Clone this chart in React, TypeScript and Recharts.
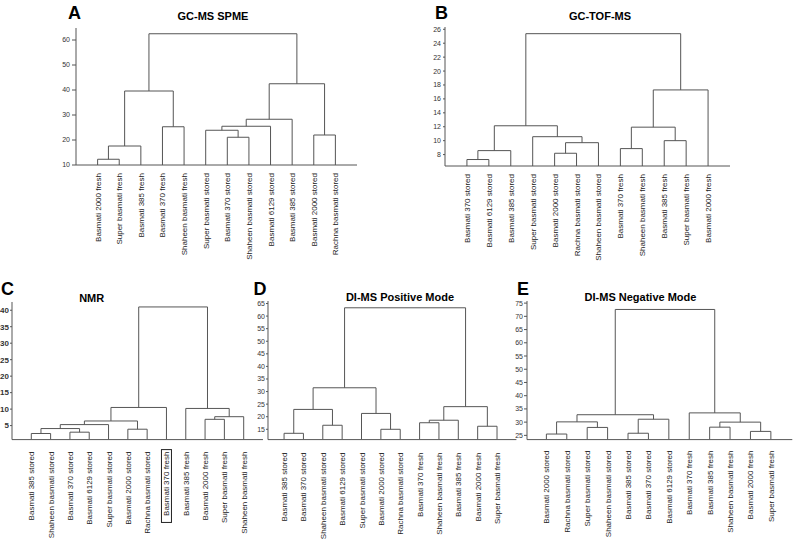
import React from 'react';
import { LineChart, Line, XAxis, YAxis } from 'recharts';

const FONT = '"Liberation Sans", Arial, Helvetica, sans-serif';
const INK = '#555';

// Each tree: leaves in printed order, then merges as [left id, right id, height].
// Ids below the leaf count are leaves, id n+k is the k-th merge.

const spmeLeaves = [
  'Basmati 2000 fresh', 'Super basmati fresh', 'Basmati 385 fresh', 'Basmati 370 fresh',
  'Shaheen basmati fresh', 'Super basmati stored', 'Basmati 370 stored', 'Shaheen basmati stored',
  'Basmati 6129 stored', 'Basmati 385 stored', 'Basmati 2000 stored', 'Rachna basmati stored',
];
const spmeMerges: [number, number, number][] = [
  [0, 1, 12.3], [12, 2, 17.6], [3, 4, 25.3], [13, 14, 39.6],
  [6, 7, 21.1], [5, 16, 23.9], [17, 8, 25.5], [18, 9, 28.3],
  [10, 11, 22.0], [19, 20, 42.5], [15, 21, 62.5],
];
const spmeTicks = [10, 20, 30, 40, 50, 60];

const tofLeaves = [
  'Basmati 370 stored', 'Basmati 6129 stored', 'Basmati 385 stored', 'Super basmati stored',
  'Basmati 2000 stored', 'Rachna basmati stored', 'Shaheen basmati stored', 'Basmati 370 fresh',
  'Shaheen basmati fresh', 'Basmati 385 fresh', 'Super basmati fresh', 'Basmati 2000 fresh',
];
const tofMerges: [number, number, number][] = [
  [0, 1, 7.29], [12, 2, 8.57], [4, 5, 8.19], [14, 6, 9.71],
  [3, 15, 10.57], [13, 16, 12.14], [7, 8, 8.86], [9, 10, 10.0],
  [18, 19, 11.94], [20, 11, 17.29], [17, 21, 25.37],
];
const tofTicks = [8, 10, 12, 14, 16, 18, 20, 22, 24, 26];

const nmrLeaves = [
  'Basmati 385 stored', 'Shaheen basmati stored', 'Basmati 370 stored', 'Basmati 6129 stored',
  'Super basmati stored', 'Basmati 2000 stored', 'Rachna basmati stored', 'Basmati 370 fresh',
  'Basmati 385 fresh', 'Basmati 2000 fresh', 'Super basmati fresh', 'Shaheen basmati fresh',
];
const nmrMerges: [number, number, number][] = [
  [0, 1, 2.6], [2, 3, 3.0], [12, 13, 4.1], [14, 4, 5.3],
  [5, 6, 3.9], [15, 16, 6.4], [17, 7, 10.5], [9, 10, 6.9],
  [19, 11, 7.7], [8, 20, 10.2], [18, 21, 41.0],
];
const nmrTicks = [5, 10, 15, 20, 25, 30, 35, 40];

const posLeaves = [
  'Basmati 385 stored', 'Basmati 370 stored', 'Shaheen basmati stored', 'Basmati 6129 stored',
  'Super basmati stored', 'Basmati 2000 stored', 'Rachna basmati stored', 'Basmati 370 fresh',
  'Shaheen basmati fresh', 'Basmati 385 fresh', 'Basmati 2000 fresh', 'Super basmati fresh',
];
const posMerges: [number, number, number][] = [
  [0, 1, 13.4], [2, 3, 16.6], [12, 13, 22.9], [5, 6, 15.0],
  [4, 15, 21.3], [14, 16, 31.5], [7, 8, 17.6], [18, 9, 18.6],
  [10, 11, 16.2], [19, 20, 24.0], [17, 21, 63.3],
];
const posTicks = [15, 20, 25, 30, 35, 40, 45, 50, 55, 60, 65];

const negLeaves = [
  'Basmati 2000 stored', 'Rachna basmati stored', 'Super basmati stored', 'Shaheen basmati stored',
  'Basmati 385 stored', 'Basmati 370 stored', 'Basmati 6129 stored', 'Basmati 370 fresh',
  'Basmati 385 fresh', 'Shaheen basmati fresh', 'Basmati 2000 fresh', 'Super basmati fresh',
];
const negMerges: [number, number, number][] = [
  [0, 1, 25.5], [2, 3, 28.0], [12, 13, 30.1], [4, 5, 25.8],
  [15, 6, 31.1], [14, 16, 32.8], [8, 9, 28.1], [10, 11, 26.5],
  [18, 19, 30.0], [7, 20, 33.5], [17, 21, 72.6],
];
const negTicks = [25, 30, 35, 40, 45, 50, 55, 60, 65, 70, 75];

type Pt = { x: number; y: number };

// turn merges into U-shaped links; a merge sits midway over its two children
function buildLinks(n: number, merges: [number, number, number][], base: number): Pt[][] {
  const xs: number[] = [];
  const ys: number[] = [];
  for (let i = 0; i < n; i++) {
    xs.push(i);
    ys.push(base);
  }
  return merges.map(([a, b, h]) => {
    const pts = [
      { x: xs[a], y: ys[a] },
      { x: xs[a], y: h },
      { x: xs[b], y: h },
      { x: xs[b], y: ys[b] },
    ];
    xs.push((xs[a] + xs[b]) / 2);
    ys.push(h);
    return pts;
  });
}

type Box = { left: number; top: number; right: number; bottom: number };
type TickStyle = { size: number; margin: number; font: number; bold?: boolean };

type DendroProps = {
  leaves: string[];
  merges: [number, number, number][];
  yDomain: [number, number];
  yTicks: number[];
  xDomain: [number, number];
  box: Box;
  gap: number;
  yTick: TickStyle;
  boxed?: number;
};

const Dendro: React.FC<DendroProps> = ({ leaves, merges, yDomain, yTicks, xDomain, box, gap, yTick, boxed }) => {
  const links = buildLinks(leaves.length, merges, yDomain[0]);
  const yw = 40;
  const mt = 10;
  const mr = 6;
  const xh = 100;
  const width = box.right - box.left + yw + mr;
  const height = box.bottom - box.top + mt + xh;

  const renderLeaf = (props: any) => {
    const { x, y, payload } = props;
    const idx = Math.round(payload.value);
    const label = leaves[idx];
    if (label === undefined) return <g />;
    const textW = label.length * 4.05;
    return (
      <g transform={`translate(${x},${y})`}>
        {idx === boxed && (
          <rect x={-(gap + textW + 2)} y={-5} width={textW + 4} height={10} fill="none" stroke="#222" strokeWidth={1} transform="rotate(-90)" />
        )}
        <text transform="rotate(-90)" x={-gap} y={0} dy={3} textAnchor="end" fontSize={8} fontFamily={FONT} fill="#222">
          {label}
        </text>
      </g>
    );
  };

  return (
    <div style={{ position: 'absolute', left: box.left - yw, top: box.top - mt }}>
      <LineChart width={width} height={height} margin={{ top: mt, right: mr, bottom: 0, left: 0 }}>
        <XAxis
          type="number"
          dataKey="x"
          domain={xDomain}
          allowDataOverflow
          ticks={leaves.map((_, i) => i)}
          interval={0}
          tick={renderLeaf}
          tickLine={false}
          tickSize={0}
          tickMargin={0}
          height={xh}
          axisLine={{ stroke: INK }}
        />
        <YAxis
          type="number"
          domain={yDomain}
          allowDataOverflow
          ticks={yTicks}
          interval={0}
          width={yw}
          tickSize={yTick.size}
          tickMargin={yTick.margin}
          tick={{ fontSize: yTick.font, fontWeight: yTick.bold ? 700 : 400, fill: '#333', fontFamily: FONT }}
          tickLine={{ stroke: INK }}
          axisLine={{ stroke: INK }}
        />
        {links.map((pts, i) => (
          <Line
            key={i}
            data={pts}
            dataKey="y"
            type="linear"
            stroke={INK}
            strokeWidth={1}
            dot={false}
            activeDot={false}
            isAnimationActive={false}
          />
        ))}
      </LineChart>
    </div>
  );
};

export default function App() {
  return (
    <div style={{ position: 'absolute', left: 0, top: 0, width: 793, height: 546, background: '#fff', overflow: 'hidden' }}>
      <Dendro
        leaves={spmeLeaves}
        merges={spmeMerges}
        yDomain={[10, 64.8]}
        yTicks={spmeTicks}
        xDomain={[-1, 12]}
        box={{ left: 76, top: 28, right: 357, bottom: 165 }}
        gap={8}
        yTick={{ size: 4, margin: 2, font: 7 }}
      />
      <Dendro
        leaves={tofLeaves}
        merges={tofMerges}
        yDomain={[6.36, 26.33]}
        yTicks={tofTicks}
        xDomain={[-1, 12]}
        box={{ left: 445, top: 26.7, right: 730, bottom: 165.7 }}
        gap={8}
        yTick={{ size: 2, margin: 2, font: 7 }}
      />
      <Dendro
        leaves={nmrLeaves}
        merges={nmrMerges}
        yDomain={[0.75, 42.5]}
        yTicks={nmrTicks}
        xDomain={[-1, 12]}
        box={{ left: 12, top: 301.7, right: 263, bottom: 439.3 }}
        gap={12}
        yTick={{ size: 2, margin: 1, font: 8, bold: true }}
        boxed={7}
      />
      <Dendro
        leaves={posLeaves}
        merges={posMerges}
        yDomain={[10.9, 66]}
        yTicks={posTicks}
        xDomain={[-0.83, 12]}
        box={{ left: 268.3, top: 300.7, right: 516.7, bottom: 439.3 }}
        gap={13}
        yTick={{ size: 2, margin: 1, font: 7 }}
      />
      <Dendro
        leaves={negLeaves}
        merges={negMerges}
        yDomain={[23.4, 75.8]}
        yTicks={negTicks}
        xDomain={[-0.95, 12.05]}
        box={{ left: 526.7, top: 300.7, right: 792, bottom: 439.3 }}
        gap={11}
        yTick={{ size: 3, margin: 1, font: 7 }}
      />
      <svg width={793} height={546} style={{ position: 'absolute', left: 0, top: 0, pointerEvents: 'none' }}>
        <g fontFamily={FONT} fontWeight={700} fill="#000">
          <text x={68} y={18.5} fontSize={18}>A</text>
          <text x={213} y={20} fontSize={11} textAnchor="middle">GC-MS SPME</text>
          <text x={435} y={18.5} fontSize={18}>B</text>
          <text x={600} y={20} fontSize={11} textAnchor="middle">GC-TOF-MS</text>
          <text x={1} y={295} fontSize={18}>C</text>
          <text x={91.7} y={302} fontSize={11} textAnchor="middle">NMR</text>
          <text x={253.5} y={295} fontSize={18}>D</text>
          <text x={400} y={301} fontSize={11} textAnchor="middle">DI-MS Positive Mode</text>
          <text x={517} y={295} fontSize={18}>E</text>
          <text x={640.5} y={300.5} fontSize={11} textAnchor="middle">DI-MS Negative Mode</text>
        </g>
      </svg>
    </div>
  );
}
